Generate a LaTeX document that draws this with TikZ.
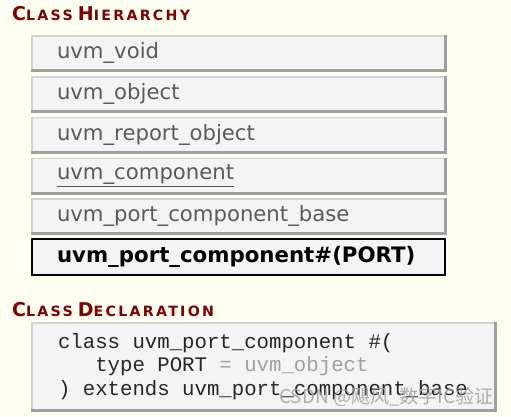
\documentclass[tikz,border=0pt]{standalone}
\usepackage{fontspec}
\setsansfont{DejaVu Sans}
\setmonofont{Liberation Mono}
\newfontfamily\headfont{DejaVu Sans}[LetterSpace=16]
\newfontfamily\cjkfont{Noto Sans CJK SC}

\definecolor{pageBg}{RGB}{255,255,242}
\definecolor{boxFill}{RGB}{244,244,245}
\definecolor{headRed}{RGB}{128,0,0}
\definecolor{nameGray}{RGB}{90,90,90}
\definecolor{codeGray}{RGB}{160,160,160}

\newcommand{\capBig}[1]{{\fontsize{19}{19}\selectfont #1}}
\newcommand{\capSmall}[1]{{\fontsize{14.2}{14}\selectfont #1}}
\newcommand{\codeGap}{\hspace*{0.6em}}

\tikzstyle{heading}=[anchor=base west,inner sep=0pt,text=headRed,font=\headfont\bfseries]
\tikzstyle{classBox}=[draw=gray!35,fill=boxFill,line width=1.5pt,minimum height=34pt,text width=363pt,inner xsep=25pt,inner ysep=0pt,align=left,text=nameGray,font=\sffamily\fontsize{21.2}{24}\selectfont]
\tikzstyle{thisClass}=[classBox,draw=black,line width=2.5pt,minimum height=36pt,text=black,font=\sffamily\bfseries\fontsize{21.3}{24}\selectfont]
\tikzstyle{bevel}=[draw=gray!75,line width=3pt]

\begin{document}
\begin{tikzpicture}[x=1pt,y=-1pt]
        \fill[pageBg] (0,0) rectangle (511,416);
        \useasboundingbox (0,0) rectangle (511,416);

        % class hierarchy
        \node[heading] (hier) at (12,20.7) {\capBig{C}\capSmall{LASS} \capBig{H}\capSmall{IERARCHY}};

        \node[classBox]  (c1) at (238.5,53)    {uvm\_void};
        \node[classBox]  (c2) at (238.5,93.8)  {uvm\_object};
        \node[classBox]  (c3) at (238.5,134.6) {uvm\_report\_object};
        \node[classBox]  (c4) at (238.5,175.4) {\underline{uvm\_component}};
        \node[classBox]  (c5) at (238.5,216.2) {uvm\_port\_component\_base};
        \node[thisClass] (c6) at (238.5,257)   {uvm\_port\_component\#(PORT)};

        \draw[bevel] (c1.south west) -- (c1.south east) -- (c1.north east);
        \draw[bevel] (c2.south west) -- (c2.south east) -- (c2.north east);
        \draw[bevel] (c3.south west) -- (c3.south east) -- (c3.north east);
        \draw[bevel] (c4.south west) -- (c4.south east) -- (c4.north east);
        \draw[bevel] (c5.south west) -- (c5.south east) -- (c5.north east);

        % class declaration
        \node[heading] (decl) at (12,316.7) {\capBig{C}\capSmall{LASS} \capBig{D}\capSmall{ECLARATION}};

        \node[classBox,minimum height=87pt,text width=411pt,inner xsep=26pt,text=black!85,
              font=\ttfamily\fontsize{20.7}{23.5}\selectfont] (code) at (263.5,366.5)
              {class\codeGap uvm\_port\_component\codeGap\#(\\
               \codeGap\codeGap\codeGap type\codeGap PORT\codeGap\textcolor{codeGray}{=\codeGap uvm\_object}\\
               )\codeGap extends\codeGap uvm\_port\_component\_base};
        \draw[bevel] (code.south west) -- (code.south east) -- (code.north east);

        \node[text=gray!75,opacity=0.85,font=\cjkfont\fontsize{19}{19}\selectfont] (mark) at (386.5,397) {CSDN @飓风\_数字IC验证};
\end{tikzpicture}
\end{document}
